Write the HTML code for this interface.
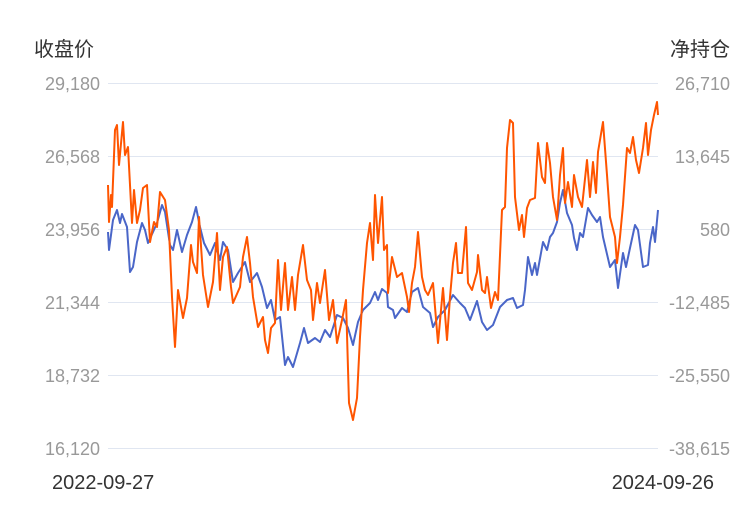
<!DOCTYPE html>
<html><head><meta charset="utf-8"><style>
html,body{margin:0;padding:0;background:#fff;width:750px;height:510px;overflow:hidden}
svg text{font-family:"Liberation Sans","Noto Sans CJK SC",sans-serif}
</style></head><body>
<svg width="750" height="510" xmlns="http://www.w3.org/2000/svg">
<g stroke="#e0e6f1" stroke-width="1">
<line x1="108" y1="83.5" x2="658" y2="83.5"/><line x1="108" y1="156.5" x2="658" y2="156.5"/>
<line x1="108" y1="229.5" x2="658" y2="229.5"/><line x1="108" y1="302.5" x2="658" y2="302.5"/>
<line x1="108" y1="375.5" x2="658" y2="375.5"/><line x1="108" y1="448.5" x2="658" y2="448.5"/>
</g>
<g font-size="18" fill="#999" text-anchor="end">
<text x="100" y="90">29,180</text><text x="100" y="163">26,568</text><text x="100" y="236">23,956</text>
<text x="100" y="309">21,344</text><text x="100" y="382">18,732</text><text x="100" y="455">16,120</text>
</g>
<g font-size="18" fill="#999" text-anchor="end">
<text x="730" y="90">26,710</text><text x="730" y="163">13,645</text><text x="730" y="236">580</text>
<text x="730" y="309">-12,485</text><text x="730" y="382">-25,550</text><text x="730" y="455">-38,615</text>
</g>
<text x="34" y="56" font-size="20" fill="#333">收盘价</text>
<text x="730" y="56" font-size="20" fill="#333" text-anchor="end">净持仓</text>
<text x="52" y="489" font-size="20" fill="#333">2022-09-27</text>
<text x="714" y="489" font-size="20" fill="#333" text-anchor="end">2024-09-26</text>
<polyline fill="none" stroke="#4a66c8" stroke-width="2" stroke-linejoin="round" points="108,232 109,250 113,220 117,210 120,223 122,214 127,227 130,272 133,267 137,242 142,223 145,230 148,243 153,232 157,223 162,205 165,212 170,245 173,250 177,230 182,252 187,235 192,222 196,207 200,227 204,243 210,255 215,243 220,260 223,242 228,250 233,282 238,273 245,262 250,282 257,273 262,287 267,308 271,300 275,320 280,317 285,365 288,357 293,367 300,343 304,328 308,343 315,338 320,342 325,330 330,337 337,315 343,318 348,328 353,345 358,322 363,310 370,303 375,292 378,300 382,289 387,293 388,307 393,310 395,318 402,308 407,312 412,292 418,288 423,307 430,313 433,327 438,317 445,310 453,295 460,303 465,308 470,320 477,301 482,322 487,330 493,325 500,307 507,300 513,298 517,308 523,305 525,290 528,257 532,275 535,263 537,275 543,242 547,250 550,237 553,233 557,222 560,203 563,190 567,213 572,225 574,238 577,250 580,233 583,237 588,208 592,215 597,222 600,217 603,237 610,267 615,260 618,288 623,253 626,267 630,248 635,225 638,230 643,267 648,265 650,243 653,227 655,242 658,210"/>
<polyline fill="none" stroke="#ff5500" stroke-width="2" stroke-linejoin="round" points="108,185 109,222 111,195 112,207 115,130 117,125 119,165 123,122 125,155 128,147 132,223 134,190 137,223 140,210 143,188 147,185 150,242 154,222 157,227 160,192 165,200 169,230 172,297 175,347 178,290 183,318 187,298 191,245 193,262 197,273 199,217 203,275 208,307 213,282 217,233 220,290 223,257 227,247 231,287 233,303 240,287 243,257 247,237 250,263 253,297 258,327 263,317 265,340 268,353 271,328 275,323 278,260 281,310 285,263 288,310 292,277 295,310 298,275 303,245 307,280 311,290 313,320 317,283 320,303 325,270 329,320 333,300 337,343 342,320 346,300 349,403 353,420 357,398 360,337 363,290 367,243 370,223 373,260 375,195 378,243 382,197 384,250 387,245 388,293 392,257 397,277 402,273 407,297 409,312 412,283 415,267 418,232 422,277 425,290 428,295 433,283 438,343 443,288 447,340 450,297 453,263 456,243 458,273 462,273 466,227 468,283 472,290 477,272 478,255 482,290 485,293 487,277 491,308 495,292 498,300 502,210 505,207 507,148 510,120 513,123 515,197 519,230 522,215 524,237 527,208 530,200 535,198 538,143 542,177 545,183 547,143 550,163 553,197 557,220 560,175 563,148 565,203 568,182 572,207 574,175 578,197 582,207 587,160 590,197 593,162 596,193 598,152 603,122 607,175 610,217 615,237 617,263 620,237 623,205 627,148 630,153 633,137 636,160 639,173 643,148 646,123 648,155 651,130 654,115 657,102 658,115"/>
</svg>
</body></html>
